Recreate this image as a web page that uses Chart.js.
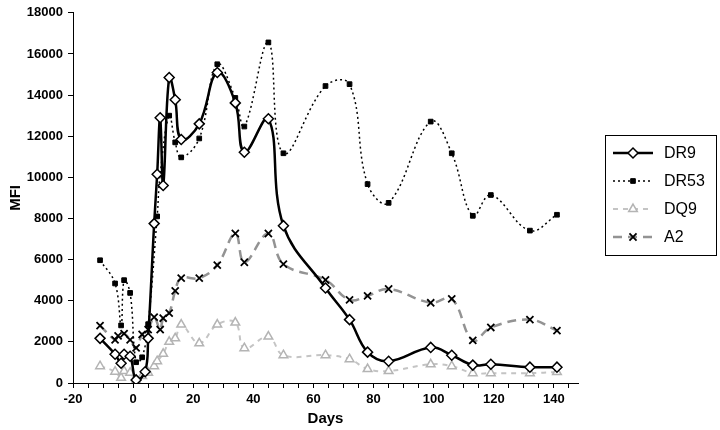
<!DOCTYPE html>
<html>
<head>
<meta charset="utf-8">
<script src="https://cdn.jsdelivr.net/npm/chart.js@4/dist/chart.umd.min.js"></script>
<style>
  html, body { margin: 0; padding: 0; background: #fff; }
  #wrap { width: 720px; height: 430px; position: relative; }
</style>
</head>
<body>
<div id="wrap"><canvas id="mfiChart"></canvas></div>
<script>
// values
const dr9Days = [-11, -6, -4, -3, -1, 1, 4, 5, 7, 8, 9, 10, 12, 14, 16, 22, 28, 34, 37, 45, 50, 64, 72, 78, 85, 99, 106, 113, 119, 132, 141];
const dr9 = [2170, 1400, 960, 1400, 1300, 150, 550, 2170, 7750, 10150, 12900, 9600, 14850, 13770, 11840, 12600, 15100, 13620, 11220, 12850, 7650, 4620, 3080, 1500, 1060, 1730, 1350, 870, 910, 770, 770];

const dr53Days = [-11, -6, -4, -3, -1, 1, 3, 5, 8, 9, 12, 14, 16, 22, 28, 34, 37, 45, 50, 64, 72, 78, 85, 99, 106, 113, 119, 132, 141];
const dr53 = [5970, 4840, 2800, 5000, 4380, 1010, 1250, 2860, 8100, 10150, 13000, 11700, 10970, 11890, 15500, 13860, 12470, 16560, 11170, 14440, 14530, 9670, 8760, 12710, 11170, 8130, 9140, 7410, 8180];

const dq9Days = [-11, -6, -4, -3, -1, 1, 3, 5, 7, 8, 10, 12, 14, 16, 22, 28, 34, 37, 45, 50, 64, 72, 78, 85, 99, 106, 113, 119, 132, 141];
const dq9 = [820, 550, 250, 580, 500, 120, 340, 500, 820, 1060, 1420, 2000, 2170, 2840, 1930, 2840, 2940, 1690, 2260, 1350, 1350, 1160, 680, 580, 910, 820, 480, 480, 480, 530];

const a2Days = [-11, -6, -5, -3, -1, 1, 3, 5, 7, 9, 10, 12, 14, 16, 22, 28, 34, 37, 45, 50, 64, 72, 78, 85, 99, 106, 113, 119, 132, 141];
const a2 = [2790, 2100, 2290, 2400, 2100, 1710, 2360, 2600, 3200, 2600, 3150, 3400, 4480, 5100, 5100, 5730, 7270, 5870, 7270, 5780, 5010, 4040, 4240, 4570, 3900, 4090, 2070, 2700, 3080, 2550];

const seriesNames = ['DR9', 'DR53', 'DQ9', 'A2'];

function pts(days, vals) {
   return days.map((d, i) => ({ x: d, y: vals[i] }));
}

Chart.defaults.font.family = '"Liberation Sans", Arial, sans-serif';
Chart.defaults.color = '#000';

// boxed legend on the right, line sample with marker like the original
const boxLegend = {
   id: 'boxLegend',
   afterDraw(chart) {
      const ctx = chart.ctx;
      ctx.save();
      ctx.strokeStyle = '#000';
      ctx.lineWidth = 1;
      ctx.strokeRect(605.5, 135.5, 111, 120);
      chart.data.datasets.forEach((ds, i) => {
         const y = 153 + i * 28;
         ctx.save();
         ctx.strokeStyle = ds.borderColor;
         ctx.lineWidth = ds.borderWidth;
         ctx.setLineDash(ds.borderDash || []);
         ctx.beginPath();
         ctx.moveTo(613, y);
         ctx.lineTo(653, y);
         ctx.stroke();
         ctx.restore();
         ctx.save();
         ctx.fillStyle = ds.pointBackgroundColor;
         ctx.strokeStyle = ds.pointBorderColor;
         ctx.lineWidth = ds.pointBorderWidth;
         Chart.helpers.drawPoint(ctx, {
            pointStyle: ds.pointStyle,
            radius: ds.pointRadius,
            borderWidth: ds.pointBorderWidth,
            rotation: 0
         }, 633, y);
         ctx.restore();
         ctx.fillStyle = '#000';
         ctx.font = '16px "Liberation Sans", Arial, sans-serif';
         ctx.textBaseline = 'middle';
         ctx.fillText(ds.label, 664, y + 1);
      });
      ctx.restore();
   }
};

new Chart(document.getElementById('mfiChart'), {
   type: 'line',

   data: {
      datasets: [
         {
            label: seriesNames[0],
            data: pts(dr9Days, dr9),
            borderColor: '#000',
            borderWidth: 2.5,
            pointStyle: 'rectRot',
            pointRadius: 5,
            pointBackgroundColor: '#fff',
            pointBorderColor: '#000',
            pointBorderWidth: 1.5
         },
         {
            label: seriesNames[1],
            data: pts(dr53Days, dr53),
            borderColor: '#000',
            borderWidth: 1.5,
            borderDash: [2, 3],
            pointStyle: 'rect',
            pointRadius: 3.3,
            pointBackgroundColor: '#000',
            pointBorderColor: '#000',
            pointBorderWidth: 1
         },
         {
            label: seriesNames[2],
            data: pts(dq9Days, dq9),
            borderColor: '#c4c4c4',
            borderWidth: 2,
            borderDash: [5, 5],
            pointStyle: 'triangle',
            pointRadius: 5,
            pointBackgroundColor: '#fff',
            pointBorderColor: '#b4b4b4',
            pointBorderWidth: 1.5
         },
         {
            label: seriesNames[3],
            data: pts(a2Days, a2),
            borderColor: '#939393',
            borderWidth: 2.5,
            borderDash: [9, 6],
            pointStyle: 'crossRot',
            pointRadius: 5,
            pointBackgroundColor: '#000',
            pointBorderColor: '#000',
            pointBorderWidth: 1.8
         }
      ]
   },

   options: {
      responsive: true,
      maintainAspectRatio: false,
      animation: false,

      layout: {
         padding: { left: 0, top: 0, right: 142, bottom: 0 }
      },

      elements: {
         line: { tension: 0.4, fill: false }
      },

      plugins: {
         legend: { display: false },
         tooltip: { enabled: false }
      },

      scales: {
         x: {
            type: 'linear',
            min: -20,
            max: 148,
            afterFit: (s) => { s.height = 47; },
            grid: {
               drawOnChartArea: false,
               color: '#000',
               tickLength: 5
            },
            border: { display: true, color: '#000', width: 1 },
            ticks: {
               stepSize: 5,
               includeBounds: false,
               autoSkip: false,
               maxRotation: 0,
               padding: 4,
               font: { size: 13, weight: 'bold' },
               callback: (v) => (v % 20 === 0 ? String(v) : '')
            },
            title: {
               display: true,
               text: 'Days',
               font: { size: 15, weight: 'bold' },
               padding: { top: 0, bottom: 2 }
            }
         },

         y: {
            min: 0,
            max: 18000,
            afterFit: (s) => { s.width = 73; },
            grid: {
               drawOnChartArea: false,
               color: '#000',
               tickLength: 5
            },
            border: { display: true, color: '#000', width: 1 },
            ticks: {
               stepSize: 2000,
               padding: 5,
               font: { size: 13, weight: 'bold' },
               callback: (v) => String(v)
            },
            title: {
               display: true,
               text: 'MFI',
               font: { size: 15, weight: 'bold' },
               padding: { top: 7, bottom: 0 }
            }
         }
      }
   },

   plugins: [boxLegend]
});
</script>
</body>
</html>
